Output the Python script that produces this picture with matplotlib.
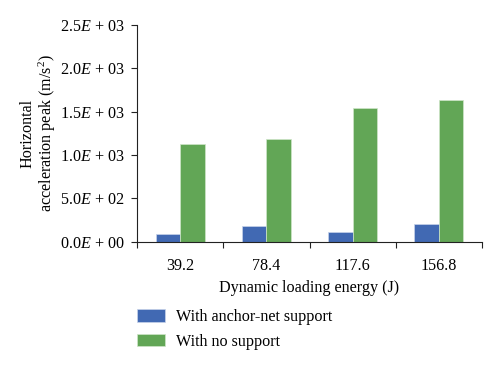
import numpy as np
import matplotlib.pyplot as plt
from matplotlib.ticker import FuncFormatter

plt.rcParams['font.family'] = ['Liberation Serif', 'DejaVu Serif']
plt.rcParams['mathtext.fontset'] = 'custom'
plt.rcParams['mathtext.rm'] = 'Liberation Serif'
plt.rcParams['mathtext.it'] = 'Liberation Serif:italic'

# data
energies = ['39.2', '78.4', '117.6', '156.8']
anchor_net = [89, 181, 115, 208]
no_support = [1128, 1182, 1540, 1633]

blue = '#4169b3'
green = '#62a656'
fs = 11.6

fig = plt.figure(figsize=(5, 3.66), dpi=100)
ax = fig.add_axes([0.274, 0.3396, 0.69, 0.592])

x = np.arange(len(energies))
w = 0.284
ax.bar(x - w / 2, anchor_net, w, color=blue, edgecolor='#c8d4ea', linewidth=0.5,
       label='With anchor-net support')
ax.bar(x + w / 2, no_support, w, color=green, edgecolor='#cfe6c9', linewidth=0.5,
       label='With no support')

ax.set_xlim(-0.5, len(energies) - 0.5)
ax.set_ylim(0, 2500)
ax.set_yticks(np.arange(0, 2501, 500))


def sci(v, pos):
    m, e = f'{v:.1E}'.split('E')
    return f'{m}$E$ + {int(e):02d}'


ax.yaxis.set_major_formatter(FuncFormatter(sci))
ax.set_xticks(np.arange(-0.5, len(energies)), minor=False)
ax.set_xticklabels([])
ax.set_xticks(x, minor=True)
ax.set_xticklabels(energies, minor=True)
ax.tick_params(axis='x', which='minor', length=0, labelsize=fs, pad=12)
ax.tick_params(axis='x', which='major', length=4, direction='out', width=0.8,
               color='#222222')
ax.tick_params(axis='y', length=4, direction='out', labelsize=fs, width=0.8,
               color='#222222', pad=5)

for s in ['top', 'right']:
    ax.spines[s].set_visible(False)
for s in ['left', 'bottom']:
    ax.spines[s].set_linewidth(0.8)
    ax.spines[s].set_color('#222222')

ax.set_xlabel('Dynamic loading energy (J)', fontsize=fs, labelpad=4)
ax.set_ylabel('Horizontal\nacceleration peak (m/s$^2$)', fontsize=fs,
              linespacing=1.1, labelpad=1)

fig.legend(loc='upper left', bbox_to_anchor=(0.262, 0.172), frameon=False,
           fontsize=fs, handlelength=1.7, handleheight=0.85,
           handletextpad=0.7, labelspacing=0.5, borderaxespad=0)

fig.savefig('out.png', dpi=100)
